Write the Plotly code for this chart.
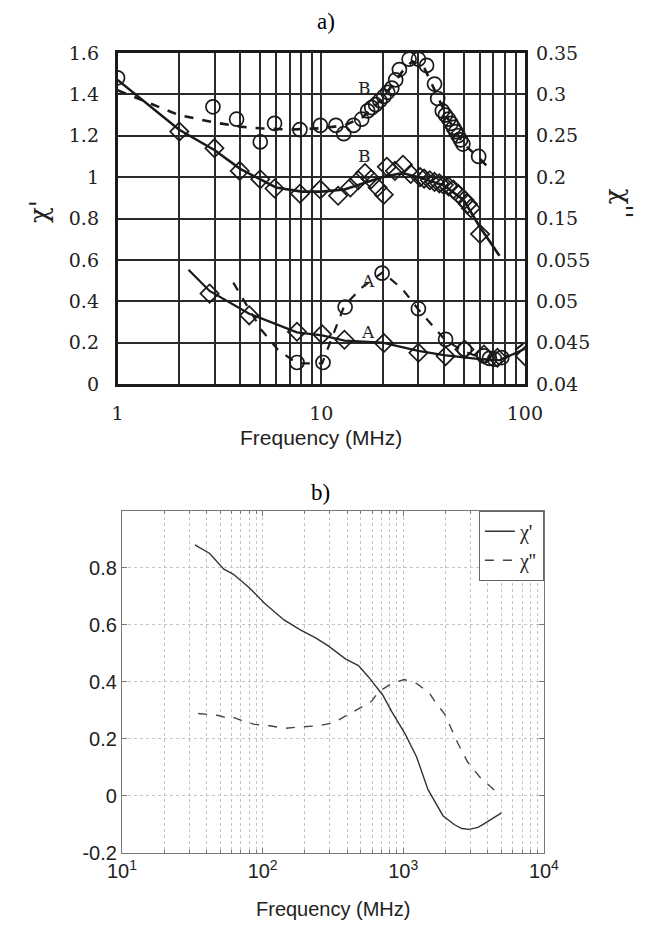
import math
import plotly.graph_objects as go

W, H = 654, 937

# ---------------- panel a) data ----------------
# B, chi'' (circles) -- right axis, upper scale
fB2 = [1.0, 2.94, 3.84, 5.02, 5.9, 7.86, 9.9, 11.8, 12.9, 14.4, 15.8, 16.9, 17.7, 18.5, 19.4,
       20.3, 21.2, 22.2, 23.2, 24.2, 27, 30, 32.9, 36, 37.3, 39.3, 40.7, 42.2, 43.4, 44.6,
       45.8, 47, 48.3, 49.6, 59.3]
vB2 = [0.32, 0.285, 0.27, 0.2425, 0.265, 0.2575, 0.2625, 0.2625, 0.2525, 0.2625, 0.27, 0.28,
       0.284, 0.2875, 0.2925, 0.2975, 0.3025, 0.3075, 0.3175, 0.33, 0.3425, 0.3425, 0.335,
       0.3125, 0.295, 0.28, 0.275, 0.27, 0.265, 0.26, 0.255, 0.25, 0.245, 0.24, 0.225]
# B, chi'' fitted curve (dashed)
fB2fit = [1, 2, 3, 4, 5, 7, 10, 13, 16, 20, 25, 28, 32, 37, 42, 50, 60, 70]
vB2fit = [0.305, 0.275, 0.266, 0.261, 0.259, 0.2575, 0.259, 0.2625, 0.2725, 0.295, 0.3275,
          0.34, 0.3325, 0.30, 0.27, 0.24, 0.2225, 0.205]

# B, chi' (diamonds) -- left axis
fB1 = [2.01, 2.99, 3.98, 5.02, 5.9, 7.86, 9.9, 12.1, 13.9, 15.2, 16.4, 17.6, 18.9, 20.3, 21,
       23, 25.2, 27.5, 30.6, 32, 34.1, 36, 38, 40, 42.2, 44.5, 47, 50.5, 52.5, 54.3, 60.2]
yB1 = [1.22, 1.14, 1.03, 0.99, 0.945, 0.92, 0.94, 0.91, 0.95, 0.985, 1.02, 0.99, 0.95, 0.915,
       1.05, 1.03, 1.06, 1.015, 1.0, 0.993, 0.985, 0.977, 0.97, 0.962, 0.955, 0.94, 0.92,
       0.89, 0.87, 0.85, 0.725]
fB1fit = [1, 2, 3, 4, 5, 6, 8, 10, 13, 16, 20, 25, 30, 40, 50, 60, 75]
yB1fit = [1.47, 1.23, 1.13, 1.04, 0.99, 0.95, 0.93, 0.93, 0.94, 0.97, 1.0, 1.02, 1.0, 0.96,
          0.89, 0.76, 0.62]

# A, chi'' (circles) -- right axis, lower scale
fA2 = [7.6, 10.2, 13.1, 19.9, 30, 40.8, 50.5, 62.9, 67, 71, 77]
vA2 = [0.0426, 0.0426, 0.0493, 0.0534, 0.0491, 0.0454, 0.0442, 0.0434, 0.0431, 0.0430, 0.0432]
fA2fit = [3.7, 5.1, 6.1, 7.6, 10.1, 13, 16, 20, 25, 30, 40.8, 50, 63, 75, 100]
vA2fit = [0.05225, 0.0465, 0.0442, 0.0425, 0.0425, 0.0495, 0.05175, 0.0535, 0.0515, 0.049,
          0.04525, 0.044, 0.043, 0.04275, 0.045]

# A, chi' (diamonds) -- left axis
fA1 = [2.83, 4.43, 7.6, 10.1, 13.0, 20.3, 30, 40.8, 50.5, 62.9, 73.3, 100]
yA1 = [0.437, 0.332, 0.253, 0.24, 0.214, 0.198, 0.151, 0.135, 0.167, 0.143, 0.127, 0.135]
fA1fit = [2.23, 2.83, 4.43, 7.6, 10.1, 13, 20, 30, 40, 60, 75, 100]
yA1fit = [0.552, 0.45, 0.34, 0.25, 0.235, 0.21, 0.2, 0.16, 0.14, 0.12, 0.115, 0.17]

# curve labels (text, frequency, chi')
curve_labels = [("B", 16.3, 1.43), ("B", 16.3, 1.10), ("A", 16.9, 0.50), ("A", 16.9, 0.25)]

a_xticks = [1, 10, 100]
a_xtext = ["1", "10", "100"]
a_left_ticks = [0, 0.2, 0.4, 0.6, 0.8, 1.0, 1.2, 1.4, 1.6]
a_left_text = ["0", "0.2", "0.4", "0.6", "0.8", "1", "1.2", "1.4", "1.6"]
a_rightB_ticks = [0.15, 0.2, 0.25, 0.3, 0.35]
a_rightB_text = ["0.15", "0.2", "0.25", "0.3", "0.35"]
a_rightA_ticks = [0.04, 0.045, 0.05, 0.055]
a_rightA_text = ["0.04", "0.045", "0.05", "0.055"]

# ---------------- panel b) data ----------------
fb_re = [33, 42, 53, 62, 80, 104, 142, 184, 238, 293, 390, 480, 560, 640, 714, 830, 1033,
         1244, 1497, 1916, 2300, 2606, 2951, 3400, 3775, 4989]
chi_re = [0.88, 0.85, 0.795, 0.777, 0.731, 0.674, 0.617, 0.583, 0.554, 0.526, 0.48, 0.457,
          0.42, 0.385, 0.354, 0.295, 0.217, 0.137, 0.023, -0.069, -0.10, -0.114, -0.117,
          -0.11, -0.097, -0.059]
fb_im = [34.8, 48.7, 57, 60.5, 70.6, 87.7, 112, 144, 184, 250, 320, 385, 493, 593, 670, 826,
         1016, 1250, 1538, 1706, 1977, 2455, 2860, 3548, 4266, 4540, 4831]
chi_im = [0.289, 0.282, 0.272, 0.277, 0.265, 0.251, 0.246, 0.237, 0.242, 0.246, 0.257, 0.28,
          0.309, 0.331, 0.366, 0.394, 0.408, 0.394, 0.36, 0.326, 0.286, 0.183, 0.12, 0.063,
          0.029, 0.015, 0.021]
b_xticks = [10, 100, 1000, 10000]
b_xtext = ["10<sup>1</sup>", "10<sup>2</sup>", "10<sup>3</sup>", "10<sup>4</sup>"]
b_yticks = [-0.2, 0, 0.2, 0.4, 0.6, 0.8]
b_ytext = ["-0.2", "0", "0.2", "0.4", "0.6", "0.8"]


def dom_x(a, b):
    return [a / W, b / W]


def dom_y(top, bottom):
    return [1 - bottom / H, 1 - top / H]


# minor log grid values (2..9 within each decade)
minor_a = [m * 10 ** e for e in range(0, 2) for m in range(2, 10)]
minor_b = [m * 10 ** e for e in range(1, 4) for m in range(2, 10)]

INK = "#1a1a1a"
fig = go.Figure()

# ---- panel a traces ----
fig.add_trace(go.Scatter(x=fB2fit, y=vB2fit, mode="lines", yaxis="y2", xaxis="x",
                         line=dict(color=INK, width=2.6, dash="dash"), showlegend=False))
fig.add_trace(go.Scatter(x=fB1fit, y=yB1fit, mode="lines", yaxis="y", xaxis="x",
                         line=dict(color=INK, width=2.6), showlegend=False))
fig.add_trace(go.Scatter(x=fA2fit, y=vA2fit, mode="lines", yaxis="y3", xaxis="x",
                         line=dict(color=INK, width=2.2, dash="dash"), showlegend=False))
fig.add_trace(go.Scatter(x=fA1fit, y=yA1fit, mode="lines", yaxis="y", xaxis="x",
                         line=dict(color=INK, width=2.2), showlegend=False))
mk_c = dict(symbol="circle-open", size=14, color=INK, line=dict(width=1.7, color=INK))
mk_d = dict(symbol="diamond-open", size=14, color=INK, line=dict(width=1.7, color=INK))
fig.add_trace(go.Scatter(x=fB2, y=vB2, mode="markers", yaxis="y2", xaxis="x", marker=mk_c, showlegend=False))
fig.add_trace(go.Scatter(x=fB1, y=yB1, mode="markers", yaxis="y", xaxis="x", marker=mk_d, showlegend=False))
fig.add_trace(go.Scatter(x=fA2, y=vA2, mode="markers", yaxis="y3", xaxis="x", marker=mk_c, showlegend=False))
fig.add_trace(go.Scatter(x=fA1, y=yA1, mode="markers", yaxis="y", xaxis="x", marker=mk_d, showlegend=False))

# ---- panel b traces ----
fig.add_trace(go.Scatter(x=fb_re, y=chi_re, mode="lines", xaxis="x2", yaxis="y4", name="χ'",
                         line=dict(color="#333", width=1.4)))
fig.add_trace(go.Scatter(x=fb_im, y=chi_im, mode="lines", xaxis="x2", yaxis="y4", name="χ''",
                         line=dict(color="#444", width=1.4, dash="dash")))

serif_font = dict(family="DejaVu Serif", size=19, color="#222")
sans_font = dict(family="Liberation Sans", size=20, color="#222")


def pa(x, y, text, font, angle=0):
    return dict(x=x / W, y=1 - y / H, xref="paper", yref="paper", text=text,
                xanchor="center", yanchor="middle", showarrow=False, font=font,
                textangle=angle)


ann = []
for t, f, y in curve_labels:
    ann.append(dict(x=math.log10(f), y=y, xref="x", yref="y", text=t, showarrow=False,
                    xanchor="center", yanchor="middle",
                    font=dict(family="DejaVu Serif", size=17, color="#222")))
ann += [
    pa(327, 11, "a)", dict(family="Liberation Serif", size=23, color="#000")),
    pa(322, 493, "b)", dict(family="Liberation Serif", size=23, color="#000")),
    pa(322, 437, "Frequency (MHz)", dict(family="Liberation Sans", size=21, color="#222")),
    pa(335, 920, "Frequency (MHz)", dict(family="Liberation Sans", size=20, color="#222")),
    pa(25, 205, "χ'", dict(family="DejaVu Serif", size=26, color="#222"), -90),
    pa(640, 197, "χ''", dict(family="DejaVu Serif", size=26, color="#222"), 90),
]

fig.update_layout(
    width=W, height=H, margin=dict(l=0, r=0, t=0, b=0),
    paper_bgcolor="white", plot_bgcolor="white",
    annotations=ann,
    xaxis=dict(type="log", range=[0, 2], domain=dom_x(108, 537), anchor="y",
               tickmode="array", tickvals=a_xticks, ticktext=a_xtext, tickangle=0,
               showgrid=True, gridcolor="#2a2a2a", gridwidth=1.8,
               minor=dict(tickmode="array", tickvals=minor_a, showgrid=True,
                          gridcolor="#2a2a2a", gridwidth=1.8, ticks=""),
               showline=True, mirror=True, linecolor=INK, linewidth=2.5,
               ticks="", ticklabelstandoff=10, tickfont=serif_font, zeroline=False),
    yaxis=dict(range=[0, 1.6], domain=dom_y(43, 382), anchor="x",
               tickmode="array", tickvals=a_left_ticks, ticktext=a_left_text,
               showgrid=True, gridcolor="#2a2a2a", gridwidth=1.8,
               showline=True, mirror=True, linecolor=INK, linewidth=2.5,
               ticks="", ticklabelstandoff=12, tickfont=serif_font, zeroline=False),
    yaxis2=dict(overlaying="y", side="right", anchor="x", range=[-0.05, 0.35],
                tickmode="array", tickvals=a_rightB_ticks, ticktext=a_rightB_text,
                showgrid=False, zeroline=False, showline=False, ticks="",
                ticklabelstandoff=10, tickfont=serif_font),
    yaxis3=dict(overlaying="y", side="right", anchor="x", range=[0.04, 0.08],
                tickmode="array", tickvals=a_rightA_ticks, ticktext=a_rightA_text,
                showgrid=False, zeroline=False, showline=False, ticks="",
                ticklabelstandoff=10, tickfont=serif_font),
    xaxis2=dict(type="log", range=[1, 4], domain=dom_x(112.7, 557), anchor="y4",
                tickmode="array", tickvals=b_xticks, ticktext=b_xtext, tickangle=0,
                showgrid=True, gridcolor="#c4c4c4", griddash="dot", gridwidth=1,
                minor=dict(tickmode="array", tickvals=minor_b, showgrid=True,
                           gridcolor="#c4c4c4", griddash="dot", gridwidth=1,
                           ticks="inside", ticklen=3, tickcolor="#777"),
                showline=True, mirror="ticks", linecolor="#777", linewidth=1.3,
                ticks="inside", ticklen=5, tickcolor="#777", tickwidth=1,
                tickfont=sans_font, zeroline=False),
    yaxis4=dict(range=[-0.2, 1.0], domain=dom_y(511.7, 862.3), anchor="x2",
                tickmode="array", tickvals=b_yticks, ticktext=b_ytext,
                showgrid=True, gridcolor="#c4c4c4", griddash="dot", gridwidth=1,
                showline=True, mirror="ticks", linecolor="#777", linewidth=1.3,
                ticks="inside", ticklen=5, tickcolor="#777", tickwidth=1,
                tickfont=sans_font, zeroline=False),
    legend=dict(x=557 / W, xanchor="right", y=1 - 511.7 / H, yanchor="top",
                bgcolor="white", bordercolor="#666", borderwidth=1,
                font=dict(family="Liberation Serif", size=20, color="#222"),
                tracegroupgap=0),
)

fig.write_html("out.html")
